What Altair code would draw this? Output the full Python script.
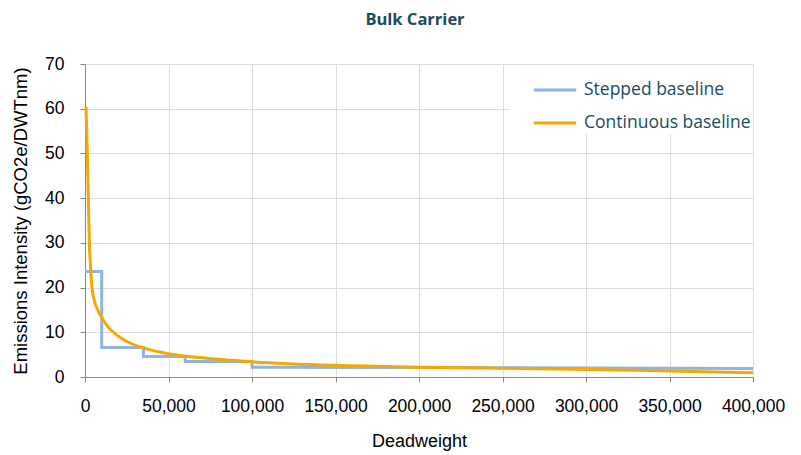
import altair as alt
import pandas as pd

# Stepped baseline vertices (deadweight, gCO2e/DWTnm)
step_x = [0, 10000, 10000, 35000, 35000, 60000, 60000, 100000, 100000, 400000]
step_y = [23.6, 23.6, 6.6, 6.6, 4.6, 4.6, 3.45, 3.45, 2.2, 1.9]

# Continuous baseline points
cont_x = [600, 1400, 2000, 2600, 3200, 4200, 6000, 8000, 10000, 14000, 18000,
          22000, 27000, 35000, 50000, 60000, 70000, 85000, 100000, 150000,
          200000, 250000, 300000, 350000, 400000]
cont_y = [60.5, 50, 40, 30, 25.4, 20, 16.6, 14.7, 13.3, 11.1, 9.7,
          8.6, 7.6, 6.5, 5.2, 4.65, 4.3, 3.8, 3.4, 2.6,
          2.2, 1.95, 1.7, 1.35, 0.95]

series_names = ["Stepped baseline", "Continuous baseline"]
series_colors = ["#8db4e2", "#f5a800"]
x_ticks = [0, 50000, 100000, 150000, 200000, 250000, 300000, 350000, 400000]
y_ticks = [0, 10, 20, 30, 40, 50, 60, 70]

TEXT = "#1d4a5f"
FONT = "Open Sans"

step_df = pd.DataFrame({"dwt": step_x, "ei": step_y, "series": series_names[0],
                        "ord": list(range(len(step_x)))})
cont_df = pd.DataFrame({"dwt": cont_x, "ei": cont_y, "series": series_names[1],
                        "ord": list(range(len(cont_x)))})

color = alt.Color(
    "series:N",
    scale=alt.Scale(domain=series_names, range=series_colors),
    legend=alt.Legend(
        title=None,
        orient="none",
        legendX=425,
        legendY=1,
        fillColor="white",
        padding=2,
        symbolOffset=20,
        symbolType="stroke",
        symbolStrokeWidth=3,
        symbolSize=1800,
        labelFontSize=17.5,
        labelFont=FONT,
        labelColor=TEXT,
        labelOffset=6,
        labelLimit=400,
        rowPadding=1,
    ),
)

x_enc = alt.X(
    "dwt:Q",
    title="Deadweight",
    scale=alt.Scale(domain=[0, 400000], nice=False),
    axis=alt.Axis(values=x_ticks, format=",d", labelFontSize=17.5, labelPadding=15,
                  labelOverlap=False, labelFlush=False,
                  titleFontSize=18, titlePadding=18, titleFontWeight="normal"),
)
y_enc = alt.Y(
    "ei:Q",
    title="Emissions Intensity (gCO2e/DWTnm)",
    scale=alt.Scale(domain=[0, 70], nice=False),
    axis=alt.Axis(values=y_ticks, labelFontSize=17.5, labelPadding=16,
                  titleFontSize=18.5, titlePadding=14, titleFontWeight="normal"),
)

stepped = alt.Chart(step_df).mark_line(strokeWidth=3).encode(
    x=x_enc, y=y_enc, color=color, order="ord:Q")
continuous = alt.Chart(cont_df).mark_line(strokeWidth=3, interpolate="monotone").encode(
    x=x_enc, y=y_enc, color=color, order="ord:Q")

chart = alt.layer(stepped, continuous).properties(
    width=668,
    height=313,
    title=alt.TitleParams("Bulk Carrier", anchor="middle", fontSize=16.5, fontWeight="bold",
                          color=TEXT, font=FONT, offset=27, dx=-4),
    autosize=alt.AutoSizeParams(type="none"),
    padding={"left": 77, "top": 56, "right": 40, "bottom": 78},
).configure_axis(
    grid=True,
    gridColor="#8fa2ae",
    gridWidth=1,
    domain=False,
    ticks=False,
    labelColor=TEXT,
    titleColor=TEXT,
    labelFont=FONT,
    titleFont=FONT,
).configure_view(
    stroke="#a9b8c1",
    strokeWidth=1,
).configure(background="white")

chart.save("out.html", embed_options={"renderer": "svg", "actions": False})
